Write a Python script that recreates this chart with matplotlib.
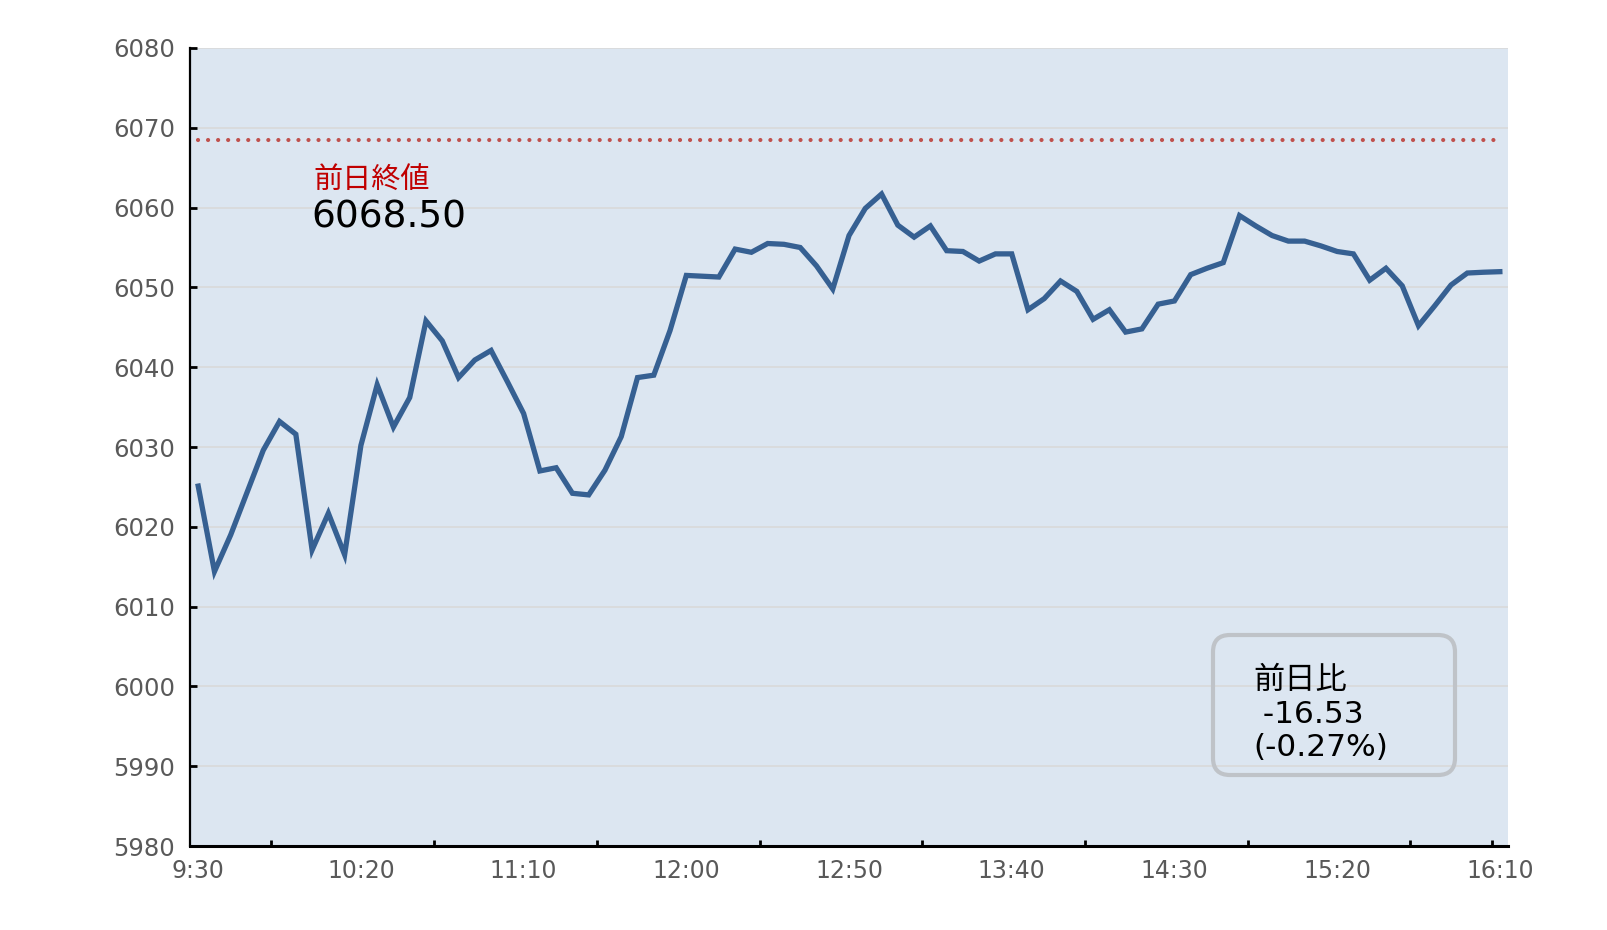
#!/usr/bin/env python3

import matplotlib
matplotlib.use('Agg')
import matplotlib.pyplot as plt
from matplotlib.patches import FancyBboxPatch

# Index values at 5 minute steps, 9:30 .. 16:10
prices = [6025.1, 6014.4, 6019.0, 6024.3, 6029.6, 6033.2, 6031.6, 6017.1, 6021.7, 6016.5,
          6030.2, 6037.8, 6032.5, 6036.2, 6045.8, 6043.3, 6038.7, 6040.9, 6042.1, 6038.2,
          6034.2, 6027.0, 6027.4, 6024.2, 6024.0, 6027.1, 6031.3, 6038.7, 6039.0, 6044.6,
          6051.5, 6051.4, 6051.3, 6054.8, 6054.4, 6055.5, 6055.4, 6055.0, 6052.7, 6049.8,
          6056.5, 6059.9, 6061.7, 6057.8, 6056.3, 6057.7, 6054.6, 6054.5, 6053.3, 6054.2,
          6054.2, 6047.2, 6048.6, 6050.8, 6049.5, 6046.0, 6047.2, 6044.4, 6044.8, 6047.9,
          6048.3, 6051.6, 6052.4, 6053.1, 6059.0, 6057.7, 6056.5, 6055.8, 6055.8, 6055.2,
          6054.5, 6054.2, 6050.9, 6052.4, 6050.2, 6045.2, 6047.7, 6050.3, 6051.8, 6051.9,
          6051.97]
time_labels = ['9:30', '10:20', '11:10', '12:00', '12:50', '13:40', '14:30', '15:20', '16:10']
prev_close = 6068.50
change = -16.53
change_pct = -0.27

# Latin glyphs from DejaVu (wide, Meiryo-like), Japanese from Noto CJK
plt.rcParams['font.family'] = ['DejaVu Sans', 'Noto Sans CJK JP']

fig = plt.figure(figsize=(16.08, 9.30), dpi=100)
ax = fig.add_axes([0.1182, 0.0903, 0.8196, 0.8581])
ax.set_facecolor('#DCE6F1')

x = list(range(len(prices)))
ax.plot(x, prices, color='#366092', linewidth=3.8, solid_joinstyle='miter', zorder=3)

# previous close, dotted
ax.plot([x[0], x[-1]], [prev_close, prev_close], color='#C0504D', linewidth=3.0,
        linestyle=(0, (0.01, 2.4)), dash_capstyle='round', zorder=2)

ax.set_xlim(-0.5, len(prices) - 0.5)
ax.set_ylim(5980, 6080)
ax.set_yticks(range(5980, 6081, 10))
ax.yaxis.grid(True, color='#D9D9D9', linewidth=1.2)
ax.set_axisbelow(True)

ax.set_xticks(range(0, len(prices), 10))
ax.set_xticklabels(time_labels)
ax.set_xticks([4.5 + 10 * k for k in range(8)] + [79.5], minor=True)
ax.tick_params(axis='x', which='major', length=0, pad=9.5, labelsize=17, labelcolor='#595959')
ax.tick_params(axis='x', which='minor', direction='in', length=4, width=2)
ax.tick_params(axis='y', direction='in', length=5, width=2, pad=11, labelsize=17.5,
               labelcolor='#595959')

for side in ['top', 'right']:
    ax.spines[side].set_visible(False)
ax.spines['left'].set_linewidth(1.6)
ax.spines['bottom'].set_linewidth(2.2)

ax.text(0.0933, 0.8336, '前日終値', transform=ax.transAxes, fontsize=21,
        color='#C00000', ha='left', va='center')
ax.text(0.0922, 0.787, f'{prev_close:.2f}', transform=ax.transAxes, fontsize=27,
        color='black', ha='left', va='center')

box = FancyBboxPatch((12.13, 1.55), 2.42, 1.40, boxstyle='round,pad=0,rounding_size=0.17',
                     transform=fig.dpi_scale_trans, facecolor='none', edgecolor='#BFC3C8',
                     linewidth=3.0, zorder=5)
fig.patches.append(box)
ax.text(0.8065, 0.1650, f'前日比\n {change:.2f}\n({change_pct:.2f}%)', transform=ax.transAxes,
        fontsize=22.5, color='black', ha='left', va='center', linespacing=1.2, zorder=6)

plt.savefig('out.png', dpi=100)
